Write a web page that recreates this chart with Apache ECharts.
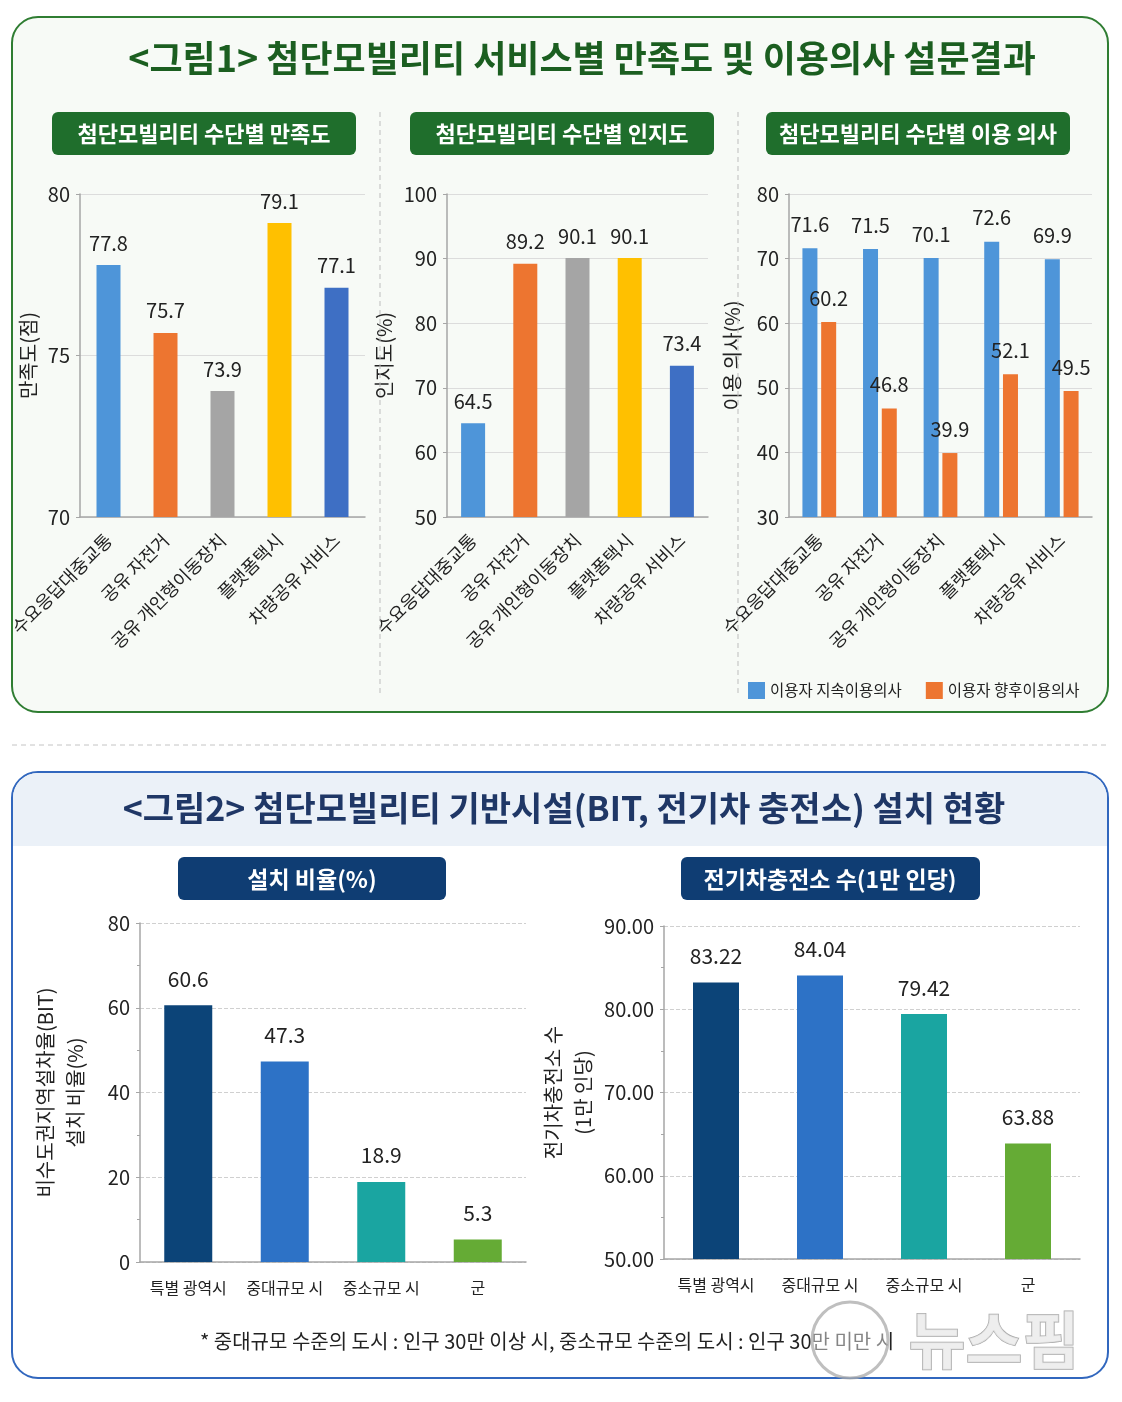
<!DOCTYPE html>
<html>
<head>
<meta charset="utf-8">
<script src="https://cdn.jsdelivr.net/npm/echarts@6/dist/echarts.min.js"></script>
<style>
  html, body { margin: 0; padding: 0; background: #fff; }
  #chart { width: 1122px; height: 1402px; }
</style>
</head>
<body>
<div id="chart"></div>
<script>
// 데이터
const topCategories = ['수요응답대중교통', '공유 자전거', '공유 개인형이동장치', '플랫폼택시', '차량공유 서비스'];
const satisfaction = [77.8, 75.7, 73.9, 79.1, 77.1];
const awareness = [64.5, 89.2, 90.1, 90.1, 73.4];
const keepUse = [71.6, 71.5, 70.1, 72.6, 69.9];
const futureUse = [60.2, 46.8, 39.9, 52.1, 49.5];

const bottomCategories = ['특별 광역시', '중대규모 시', '중소규모 시', '군'];
const bitRate = [60.6, 47.3, 18.9, 5.3];
const evChargers = [83.22, 84.04, 79.42, 63.88];

// 축 범위 (min, max, interval)
const satRange = [70, 80, 5];
const awareRange = [50, 100, 10];
const useRange = [30, 80, 10];
const bitRange = [0, 80, 20];
const evRange = [50, 90, 10];

// 색상
const topColors = ['#4e95d9', '#ed7530', '#a5a5a5', '#ffc000', '#3e6fc4'];
const bottomColors = ['#0c4478', '#2d72c6', '#1aa5a1', '#65ab35'];

const CJK = '"Noto Sans CJK KR", "Noto Sans", sans-serif';
const NUM = '"Liberation Sans Narrow", "Noto Sans CJK KR", sans-serif';

const chart = echarts.init(document.getElementById('chart'), null, { renderer: 'canvas' });

function catAxis(gi, cats, rotate, fontSize, margin) {
  return {
    type: 'category', gridIndex: gi, data: cats,
    axisLine: { lineStyle: { color: '#a6a6a6', width: 1.5 } },
    axisTick: { show: false },
    axisLabel: {
      interval: 0, rotate: rotate, margin: margin,
      color: '#222', fontSize: fontSize, fontFamily: CJK
    }
  };
}

function valAxis(gi, range, name, nameGap, dashed, fmt, fontSize) {
  return {
    type: 'value', gridIndex: gi,
    min: range[0], max: range[1], interval: range[2],
    name: name, nameLocation: 'middle', nameGap: nameGap, nameRotate: 90,
    nameTextStyle: { color: '#222', fontSize: 20, fontFamily: CJK, lineHeight: 30 },
    axisLine: { show: true, lineStyle: { color: '#a6a6a6', width: 1.5 } },
    axisTick: { show: true, length: 4, inside: false, lineStyle: { color: '#a6a6a6' } },
    minorTick: dashed ? { show: true, splitNumber: 2, length: 3, lineStyle: { color: '#a6a6a6' } } : { show: false },
    splitLine: { show: true, lineStyle: { color: dashed ? '#d0d0d0' : '#dcdcdc', type: dashed ? 'dashed' : 'solid', width: 1 } },
    axisLabel: {
      color: '#222', fontSize: fontSize, fontFamily: NUM, margin: 10,
      formatter: fmt || null
    }
  };
}

function coloredData(values, colors) {
  return values.map((v, i) => ({ value: v, itemStyle: { color: colors[i] } }));
}

const labelTop = (size, dist, fmt) => ({
  show: true, position: 'top', distance: dist,
  color: '#222', fontSize: size, fontFamily: NUM,
  formatter: fmt || '{c}'
});

const option = {
  animation: false,
  backgroundColor: '#ffffff',
  grid: [
    { left: 80, top: 194, width: 285, height: 323 },
    { left: 447, top: 194, width: 261, height: 323 },
    { left: 789, top: 194, width: 303, height: 323 },
    { left: 140, top: 923, width: 386, height: 339 },
    { left: 664, top: 926, width: 416, height: 333 }
  ],
  xAxis: [
    catAxis(0, topCategories, 45, 18, 20),
    catAxis(1, topCategories, 45, 18, 20),
    catAxis(2, topCategories, 45, 18, 20),
    catAxis(3, bottomCategories, 0, 16, 18),
    catAxis(4, bottomCategories, 0, 16, 18)
  ],
  yAxis: [
    valAxis(0, satRange, '만족도(점)', 30, false, null, 20),
    valAxis(1, awareRange, '인지도(%)', 35, false, null, 20),
    valAxis(2, useRange, '이용 의사(%)', 42, false, null, 20),
    valAxis(3, bitRange, '비수도권지역설차율(BIT)\n설치 비율(%)', 50, true, null, 20),
    valAxis(4, evRange, '전기차충전소 수\n(1만 인당)', 66, true, v => v.toFixed(2), 20)
  ],
  legend: {
    data: ['이용자 지속이용의사', '이용자 향후이용의사'],
    left: 743, top: 677, itemWidth: 17, itemHeight: 17, itemGap: 24,
    icon: 'rect',
    textStyle: { color: '#222', fontSize: 15.5, fontFamily: CJK }
  },
  series: [
    {
      name: '만족도', type: 'bar', xAxisIndex: 0, yAxisIndex: 0, barWidth: 24,
      data: coloredData(satisfaction, topColors), label: labelTop(20, 12)
    },
    {
      name: '인지도', type: 'bar', xAxisIndex: 1, yAxisIndex: 1, barWidth: 24,
      data: coloredData(awareness, topColors), label: labelTop(20, 12)
    },
    {
      name: '이용자 지속이용의사', type: 'bar', xAxisIndex: 2, yAxisIndex: 2,
      barWidth: 15, barGap: '25%', itemStyle: { color: '#4e95d9' },
      data: keepUse, label: labelTop(20, 14)
    },
    {
      name: '이용자 향후이용의사', type: 'bar', xAxisIndex: 2, yAxisIndex: 2,
      barWidth: 15, barGap: '25%', itemStyle: { color: '#ed7530' },
      data: futureUse, label: labelTop(20, 14)
    },
    {
      name: '설치 비율', type: 'bar', xAxisIndex: 3, yAxisIndex: 3, barWidth: 48,
      data: coloredData(bitRate, bottomColors), label: labelTop(21, 16)
    },
    {
      name: '전기차충전소', type: 'bar', xAxisIndex: 4, yAxisIndex: 4, barWidth: 46,
      data: coloredData(evChargers, bottomColors),
      label: labelTop(21, 16, p => p.value.toFixed(2))
    }
  ],
  graphic: [
    // 그림1 패널
    {
      type: 'rect', z: -10, shape: { x: 12, y: 17, width: 1096, height: 695, r: 26 },
      style: { fill: '#f7faf6', stroke: '#2f7d32', lineWidth: 2 }
    },
    {
      type: 'text', z: 10, x: 582, y: 58,
      style: { text: '<그림1> 첨단모빌리티 서비스별 만족도 및 이용의사 설문결과', fill: '#1b5e20', font: 'bold 36px ' + CJK, textAlign: 'center', textVerticalAlign: 'middle' }
    },
    { type: 'rect', z: 1, shape: { x: 52, y: 112, width: 304, height: 43, r: 6 }, style: { fill: '#1f6e2c' } },
    { type: 'rect', z: 1, shape: { x: 410, y: 112, width: 304, height: 43, r: 6 }, style: { fill: '#1f6e2c' } },
    { type: 'rect', z: 1, shape: { x: 766, y: 112, width: 304, height: 43, r: 6 }, style: { fill: '#1f6e2c' } },
    { type: 'text', z: 2, x: 204, y: 134, style: { text: '첨단모빌리티 수단별 만족도', fill: '#fff', font: 'bold 22px ' + CJK, textAlign: 'center', textVerticalAlign: 'middle' } },
    { type: 'text', z: 2, x: 562, y: 134, style: { text: '첨단모빌리티 수단별 인지도', fill: '#fff', font: 'bold 22px ' + CJK, textAlign: 'center', textVerticalAlign: 'middle' } },
    { type: 'text', z: 2, x: 918, y: 134, style: { text: '첨단모빌리티 수단별 이용 의사', fill: '#fff', font: 'bold 22px ' + CJK, textAlign: 'center', textVerticalAlign: 'middle' } },
    { type: 'line', z: 1, shape: { x1: 380, y1: 112, x2: 380, y2: 695 }, style: { stroke: '#bdbdbd', lineWidth: 1, lineDash: [5, 4] } },
    { type: 'line', z: 1, shape: { x1: 738, y1: 112, x2: 738, y2: 695 }, style: { stroke: '#bdbdbd', lineWidth: 1, lineDash: [5, 4] } },
    // 구분선
    { type: 'line', z: 1, shape: { x1: 12, y1: 745, x2: 1108, y2: 745 }, style: { stroke: '#c4c4c4', lineWidth: 1, lineDash: [5, 4] } },
    // 그림2 패널
    {
      type: 'rect', z: -10, shape: { x: 12, y: 772, width: 1096, height: 606, r: 26 },
      style: { fill: '#ffffff', stroke: '#3167be', lineWidth: 2 }
    },
    {
      type: 'rect', z: -9, shape: { x: 13, y: 773, width: 1094, height: 73, r: [25, 25, 0, 0] },
      style: { fill: '#ebf1f8' }
    },
    {
      type: 'text', z: 10, x: 564, y: 808,
      style: { text: '<그림2> 첨단모빌리티 기반시설(BIT, 전기차 충전소) 설치 현황', fill: '#1f3766', font: 'bold 34px ' + CJK, textAlign: 'center', textVerticalAlign: 'middle' }
    },
    { type: 'rect', z: 1, shape: { x: 178, y: 857, width: 268, height: 43, r: 6 }, style: { fill: '#0f3d73' } },
    { type: 'rect', z: 1, shape: { x: 681, y: 857, width: 299, height: 43, r: 6 }, style: { fill: '#0f3d73' } },
    { type: 'text', z: 2, x: 312, y: 879, style: { text: '설치 비율(%)', fill: '#fff', font: 'bold 23px ' + CJK, textAlign: 'center', textVerticalAlign: 'middle' } },
    { type: 'text', z: 2, x: 830, y: 879, style: { text: '전기차충전소 수(1만 인당)', fill: '#fff', font: 'bold 23px ' + CJK, textAlign: 'center', textVerticalAlign: 'middle' } },
    // 각주
    {
      type: 'text', z: 2, x: 200, y: 1341,
      style: { text: '* 중대규모 수준의 도시 : 인구 30만 이상 시, 중소규모 수준의 도시 : 인구 30만 미만 시', fill: '#222', font: '20px ' + CJK, textVerticalAlign: 'middle' }
    },
    // 워터마크
    { type: 'circle', z: 20, shape: { cx: 850, cy: 1340, r: 38 }, style: { fill: 'rgba(255,255,255,0.45)', stroke: 'rgba(170,170,170,0.75)', lineWidth: 3 } },
    {
      type: 'text', z: 20, x: 994, y: 1340,
      style: { text: '뉴스핌', fill: 'rgba(235,235,235,0.85)', stroke: 'rgba(160,160,160,0.9)', lineWidth: 1.5, font: 'bold 62px ' + CJK, textAlign: 'center', textVerticalAlign: 'middle' }
    }
  ]
};

chart.setOption(option);
</script>
</body>
</html>
